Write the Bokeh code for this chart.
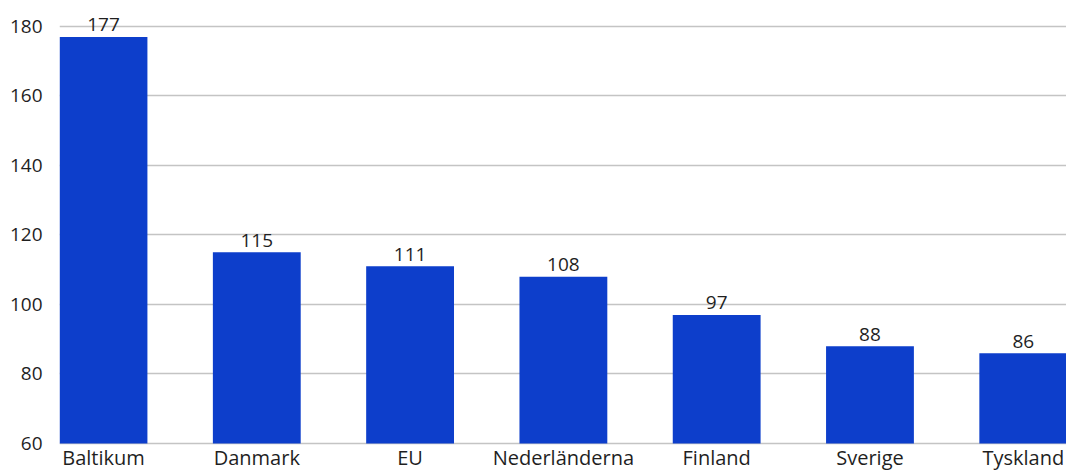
from bokeh.plotting import figure
from bokeh.models import ColumnDataSource, Range1d, FixedTicker
from bokeh.core.properties import value
from bokeh.embed import file_html
from bokeh.resources import INLINE

categories = ["Baltikum", "Danmark", "EU", "Nederländerna", "Finland", "Sverige", "Tyskland"]
values = [177, 115, 111, 108, 97, 88, 86]
y_ticks = [60, 80, 100, 120, 140, 160, 180]
y_base = 60

FONT = "Open Sans"
FS = "19px"
FS_CAT = "20px"
TXT = "#1f1f1f"
BAR = "#0d3ecb"

xs = list(range(len(categories)))
src = ColumnDataSource(dict(x=xs, top=values, label=[str(v) for v in values],
                            cat=categories, base=[y_base] * len(values)))

p = figure(width=1066, height=471, output_backend="svg", toolbar_location=None,
           x_range=Range1d(-0.287, 6.282), y_range=Range1d(51.94, 185.18),
           min_border_left=59, min_border_right=0, min_border_top=8, min_border_bottom=0)
p.outline_line_color = None
p.background_fill_color = "white"
p.border_fill_color = "white"

p.vbar(x="x", top="top", bottom=y_base, width=0.573, source=src, color=BAR, line_color=None)

p.text(x="x", y="top", text="label", source=src, text_align="center", text_baseline="alphabetic",
       y_offset=-12, text_font=value(FONT), text_font_size=FS, text_color=TXT)

p.text(x="x", y="base", text="cat", source=src, text_align="center", text_baseline="alphabetic",
       y_offset=14, text_font=value(FONT), text_font_size=FS_CAT, text_color=TXT)

p.xaxis.visible = False
p.xgrid.visible = False

p.yaxis.ticker = FixedTicker(ticks=y_ticks)
p.yaxis.axis_line_color = None
p.yaxis.major_tick_line_color = None
p.yaxis.minor_tick_line_color = None
p.yaxis.major_label_standoff = 11
p.yaxis.major_label_text_font = FONT
p.yaxis.major_label_text_font_size = FS
p.yaxis.major_label_text_color = TXT

p.ygrid.grid_line_color = "#c4c4c4"
p.ygrid.grid_line_width = 1.3

open("out.html", "w").write(file_html(p, INLINE))
